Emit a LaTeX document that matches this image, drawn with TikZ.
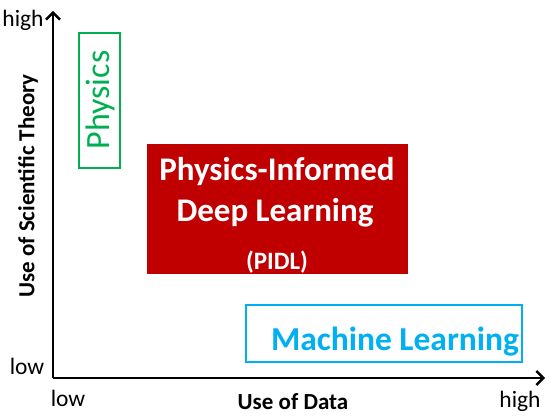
\documentclass[tikz,border=0pt]{standalone}
\usepackage{fontspec}
\setmainfont{Carlito}
\usetikzlibrary{arrows.meta}
\definecolor{physgreen}{RGB}{0,176,80}
\definecolor{pidlred}{RGB}{192,0,0}
\definecolor{mlblue}{RGB}{0,176,240}
\begin{document}
\begin{tikzpicture}[x=1pt,y=-1pt,
  axis/.style={line width=2.4pt,-{Straight Barb[length=7pt,width=14pt,line width=2.4pt]}},
  ticklbl/.style={font=\fontsize{23.5}{26}\selectfont,inner sep=0pt},
  axlbl/.style={font=\bfseries\fontsize{23}{26}\selectfont,inner sep=0pt}]
\useasboundingbox (0,0) rectangle (550,420);
\coordinate (O) at (53,378);
\coordinate (ytip) at (53,11);
\coordinate (xtip) at (545,378);
\draw[axis] (O) -- (ytip);
\draw[axis] (O) -- (xtip);
\node[ticklbl] (yhigh) at (23,20) {high};
\node[ticklbl] (ylow) at (27,366) {low};
\node[ticklbl] (xlow) at (68,398) {low};
\node[ticklbl] (xhigh) at (520,401) {high};
\node[axlbl] (xlab) at (293,402) {Use of Data};
\node[axlbl,rotate=90] (ylab) at (28,186) {Use of Scientific Theory};
% Physics box
\node[draw=physgreen,line width=1.5pt,minimum width=41pt,minimum height=135pt,inner sep=0pt] (phys) at (99.5,100.5) {};
\node[text=physgreen,rotate=90,font=\fontsize{34}{36}\selectfont,inner sep=0pt] (physt) at (100,100) {Physics};
% PIDL box
\node[fill=pidlred,minimum width=261pt,minimum height=130pt,inner sep=0pt] (pidl) at (277.5,209) {};
\node[text=white,font=\bfseries\fontsize{33}{36}\selectfont,inner sep=0pt] (pidl1) at (277,172) {Physics-Informed};
\node[text=white,font=\bfseries\fontsize{33}{36}\selectfont,inner sep=0pt] (pidl2) at (275,213) {Deep Learning};
\node[text=white,font=\bfseries\fontsize{25}{28}\selectfont,inner sep=0pt] (pidl3) at (277,262) {(PIDL)};
% ML box
\node[draw=mlblue,line width=1.5pt,minimum width=276pt,minimum height=57pt,inner sep=0pt] (ml) at (384,333.5) {};
\node[text=mlblue,font=\bfseries\fontsize{33.5}{36}\selectfont,inner sep=0pt] (mlt) at (395,342) {Machine Learning};
\end{tikzpicture}
\end{document}
